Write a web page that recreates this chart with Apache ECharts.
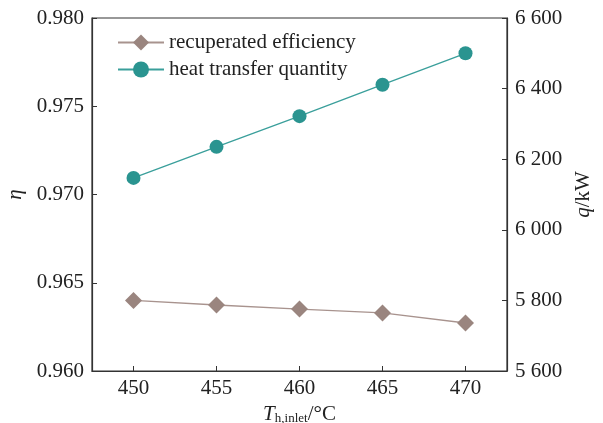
<!DOCTYPE html>
<html><head><meta charset="utf-8">
<script src="https://cdn.jsdelivr.net/npm/echarts@6/dist/echarts.min.js"></script>
<style>html,body{margin:0;padding:0;background:#fff}#c{width:603px;height:423px}</style>
</head><body><div id="c"></div>
<script>
const categories = [450, 455, 460, 465, 470];
const efficiency = [0.9640, 0.96374, 0.96351, 0.96329, 0.96272];
const heatQuantity = [6147, 6235, 6322, 6411, 6500];
const leftTicks = [0.960, 0.965, 0.970, 0.975, 0.980];
const rightTicks = [5600, 5800, 6000, 6200, 6400, 6600];

const font = 'Liberation Serif';
const axisCol = '#333';
const fs = 21;
const chart = echarts.init(document.getElementById('c'), null, {renderer: 'canvas'});
chart.setOption({
  animation: false,
  backgroundColor: '#fff',
  grid: {left: 92, right: 96, top: 18, bottom: 52, outerBoundsMode: 'none', containLabel: false,
    show: true, borderColor: axisCol, borderWidth: 1.2, backgroundColor: 'transparent'},
  legend: {
    left: 112, top: 27, orient: 'vertical', itemWidth: 46, itemHeight: 20, itemGap: 6,
    textStyle: {fontFamily: font, fontSize: fs, color: '#222'},
    data: ['recuperated efficiency', 'heat transfer quantity']
  },
  xAxis: {
    type: 'value', min: 447.5, max: 472.5,
    interval: 5,
    axisLine: {lineStyle: {color: axisCol, width: 1.2}},
    axisTick: {inside: true, length: 5, lineStyle: {color: axisCol}, customValues: categories},
    axisLabel: {fontFamily: font, fontSize: fs, color: '#222', margin: 7, customValues: categories, formatter: v => String(v)},
    splitLine: {show: false},
    name: '{i|T}{s|h,inlet}{n|/°C}', nameLocation: 'middle', nameGap: 27,
    nameTextStyle: {rich: {
      i: {fontFamily: font, fontStyle: 'italic', fontSize: fs, color: '#222'},
      s: {fontFamily: font, fontSize: 13, color: '#222', verticalAlign: 'bottom', padding: [9, 0, 0, 0]},
      n: {fontFamily: font, fontSize: fs, color: '#222'}
    }}
  },
  yAxis: [{
    type: 'value', min: 0.960, max: 0.980, interval: 0.005,
    axisLine: {show: true, lineStyle: {color: axisCol, width: 1.2}},
    axisTick: {show: true, inside: true, length: 5, lineStyle: {color: axisCol}},
    axisLabel: {fontFamily: font, fontSize: fs, color: '#222', margin: 8, formatter: v => v.toFixed(3)},
    splitLine: {show: false},
    name: 'η', nameLocation: 'middle', nameGap: 61, nameRotate: 90,
    nameTextStyle: {fontFamily: font, fontStyle: 'italic', fontSize: fs, color: '#222'}
  }, {
    type: 'value', min: 5600, max: 6600, interval: 200, position: 'right',
    axisLine: {show: true, lineStyle: {color: axisCol, width: 1.2}},
    axisTick: {show: true, inside: true, length: 5, lineStyle: {color: axisCol}},
    axisLabel: {fontFamily: font, fontSize: fs, color: '#222', margin: 8,
      formatter: v => { const s = String(v); return s.slice(0, s.length - 3) + ' ' + s.slice(-3); }},
    splitLine: {show: false},
    name: '{i|q}{n|/kW}', nameLocation: 'middle', nameGap: 60, nameRotate: 90,
    nameTextStyle: {rich: {
      i: {fontFamily: font, fontStyle: 'italic', fontSize: fs, color: '#222'},
      n: {fontFamily: font, fontSize: fs, color: '#222'}
    }}
  }],
  series: [{
    name: 'recuperated efficiency', type: 'line', yAxisIndex: 0,
    data: categories.map((c, i) => [c, efficiency[i]]),
    symbol: 'diamond', symbolSize: 17,
    itemStyle: {color: '#9a857f'},
    lineStyle: {color: '#a8938e', width: 1.3}
  }, {
    name: 'heat transfer quantity', type: 'line', yAxisIndex: 1,
    data: categories.map((c, i) => [c, heatQuantity[i]]),
    symbol: 'circle', symbolSize: 14,
    itemStyle: {color: '#2a9490'},
    lineStyle: {color: '#3a9f9b', width: 1.3}
  }]
});
</script></body></html>
